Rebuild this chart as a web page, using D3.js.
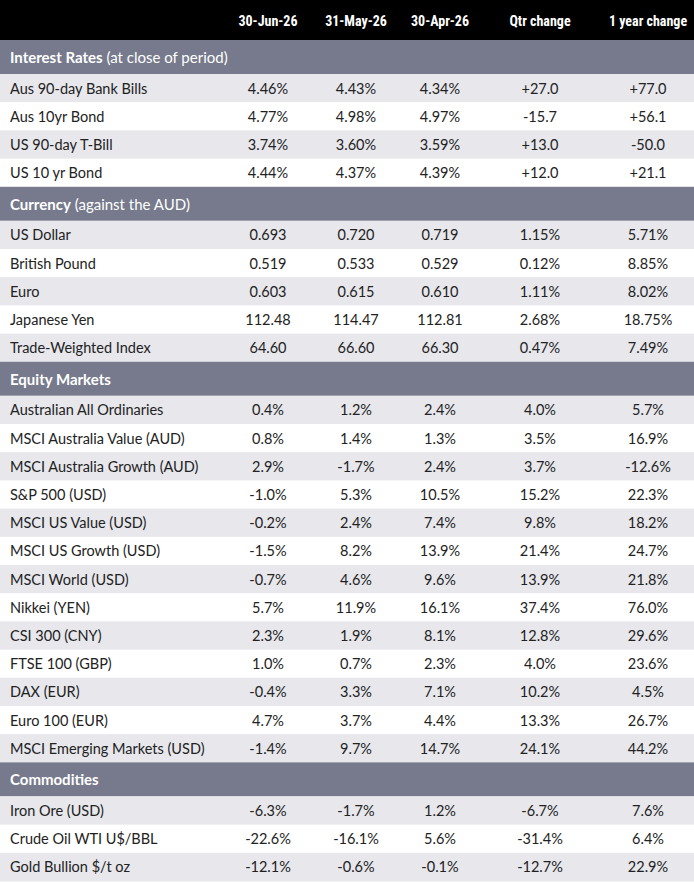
<!DOCTYPE html>
<html><head><meta charset="utf-8">
<script src="https://cdn.jsdelivr.net/npm/d3@7"></script>
<style>body{margin:0;background:#fff}</style>
</head><body>
<script>
var columns = ["30-Jun-26", "31-May-26", "30-Apr-26", "Qtr change", "1 year change"];
var sections = [
  {title: "Interest Rates", sub: " (at close of period)", rows: [
    ["Aus 90-day Bank Bills", "4.46%", "4.43%", "4.34%", "+27.0", "+77.0"],
    ["Aus 10yr Bond", "4.77%", "4.98%", "4.97%", "-15.7", "+56.1"],
    ["US 90-day T-Bill", "3.74%", "3.60%", "3.59%", "+13.0", "-50.0"],
    ["US 10 yr Bond", "4.44%", "4.37%", "4.39%", "+12.0", "+21.1"]]},
  {title: "Currency", sub: " (against the AUD)", rows: [
    ["US Dollar", "0.693", "0.720", "0.719", "1.15%", "5.71%"],
    ["British Pound", "0.519", "0.533", "0.529", "0.12%", "8.85%"],
    ["Euro", "0.603", "0.615", "0.610", "1.11%", "8.02%"],
    ["Japanese Yen", "112.48", "114.47", "112.81", "2.68%", "18.75%"],
    ["Trade-Weighted Index", "64.60", "66.60", "66.30", "0.47%", "7.49%"]]},
  {title: "Equity Markets", sub: "", rows: [
    ["Australian All Ordinaries", "0.4%", "1.2%", "2.4%", "4.0%", "5.7%"],
    ["MSCI Australia Value (AUD)", "0.8%", "1.4%", "1.3%", "3.5%", "16.9%"],
    ["MSCI Australia Growth (AUD)", "2.9%", "-1.7%", "2.4%", "3.7%", "-12.6%"],
    ["S&P 500 (USD)", "-1.0%", "5.3%", "10.5%", "15.2%", "22.3%"],
    ["MSCI US Value (USD)", "-0.2%", "2.4%", "7.4%", "9.8%", "18.2%"],
    ["MSCI US Growth (USD)", "-1.5%", "8.2%", "13.9%", "21.4%", "24.7%"],
    ["MSCI World (USD)", "-0.7%", "4.6%", "9.6%", "13.9%", "21.8%"],
    ["Nikkei (YEN)", "5.7%", "11.9%", "16.1%", "37.4%", "76.0%"],
    ["CSI 300 (CNY)", "2.3%", "1.9%", "8.1%", "12.8%", "29.6%"],
    ["FTSE 100 (GBP)", "1.0%", "0.7%", "2.3%", "4.0%", "23.6%"],
    ["DAX (EUR)", "-0.4%", "3.3%", "7.1%", "10.2%", "4.5%"],
    ["Euro 100 (EUR)", "4.7%", "3.7%", "4.4%", "13.3%", "26.7%"],
    ["MSCI Emerging Markets (USD)", "-1.4%", "9.7%", "14.7%", "24.1%", "44.2%"]]},
  {title: "Commodities", sub: "", rows: [
    ["Iron Ore (USD)", "-6.3%", "-1.7%", "1.2%", "-6.7%", "7.6%"],
    ["Crude Oil WTI U$/BBL", "-22.6%", "-16.1%", "5.6%", "-31.4%", "6.4%"],
    ["Gold Bullion $/t oz", "-12.1%", "-0.6%", "-0.1%", "-12.7%", "22.9%"]]}
];

var W = 694, H = 882, headH = 40, secH = 34, rowH = 28.2;
var colX = d3.scaleOrdinal().domain(columns).range([268, 356, 440, 540, 648]);

var svg = d3.select("body").append("svg").attr("width", W).attr("height", H)
  .style("font-family", "Lato, 'Open Sans', sans-serif");

svg.append("rect").attr("width", W).attr("height", headH).attr("fill", "#000");
svg.selectAll("text.col").data(columns).enter().append("text")
  .attr("x", function(d){ return colX(d); }).attr("y", 26)
  .attr("text-anchor", "middle").attr("fill", "#fff")
  .style("font-family", "'Liberation Sans Narrow', 'Roboto Condensed', sans-serif")
  .style("font-weight", "bold").style("font-size", "14px").text(function(d){ return d; });

var y = headH;
sections.forEach(function(s){
  svg.append("rect").attr("y", y).attr("width", W).attr("height", secH).attr("fill", "#767a8c");
  var t = svg.append("text").attr("x", 10).attr("y", y + 23).attr("fill", "#fff").style("font-size", "15px");
  t.append("tspan").style("font-weight", "bold").text(s.title);
  t.append("tspan").text(s.sub);
  y += secH;
  s.rows.forEach(function(r, i){
    var g = svg.append("g").attr("transform", "translate(0," + y + ")");
    g.append("rect").attr("width", W).attr("height", rowH + 0.5).attr("fill", i % 2 ? "#fff" : "#e7e7ec");
    g.append("text").attr("x", 10).attr("y", 19.5).attr("fill", "#222").style("font-size", "14.5px").text(r[0]);
    g.selectAll("text.v").data(r.slice(1)).enter().append("text")
      .attr("x", function(d, j){ return colX(columns[j]); }).attr("y", 19.5)
      .attr("text-anchor", "middle").attr("fill", "#222").style("font-size", "14.5px")
      .text(function(d){ return d; });
    y += rowH;
  });
});
</script>
</body></html>
